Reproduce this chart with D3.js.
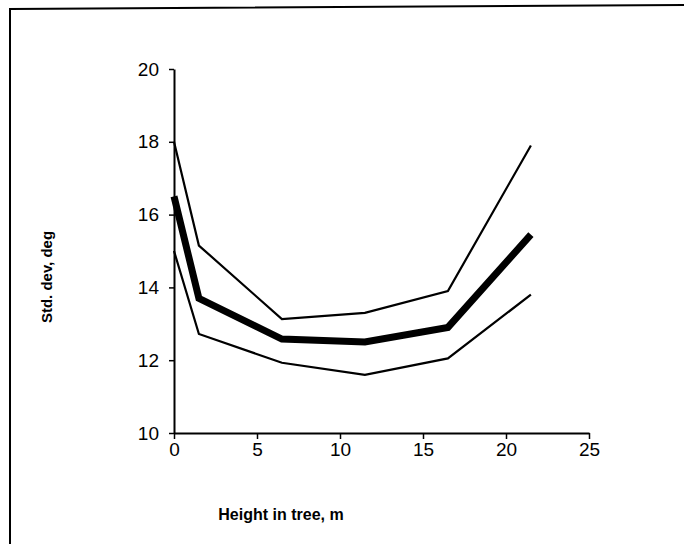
<!DOCTYPE html>
<html>
<head>
<meta charset="utf-8">
<script src="https://cdn.jsdelivr.net/npm/d3@7"></script>
<style>
  body { margin: 0; background: #fff; }
  svg { display: block; }
</style>
</head>
<body>
<div id="chart"></div>
<script>
// heights in tree (m) and std. dev (deg) for mean, upper and lower curves
var heights = [0, 1.5, 6.5, 11.5, 16.5, 21.5];
var meanSd  = [16.5, 13.7, 12.58, 12.5, 12.9, 15.45];
var upperSd = [18.0, 15.15, 13.13, 13.3, 13.9, 17.9];
var lowerSd = [15.0, 12.72, 11.93, 11.6, 12.05, 13.8];
var xTicks = [0, 5, 10, 15, 20, 25];
var yTicks = [10, 12, 14, 16, 18, 20];

var W = 684, H = 544;

var svg = d3.select("#chart").append("svg")
    .attr("width", W)
    .attr("height", H);

// frame of the scanned page
svg.append("path")
    .attr("d", "M10,544 L10,9 L684,5")
    .attr("fill", "none")
    .attr("stroke", "black")
    .attr("stroke-width", 2);

var x = d3.scaleLinear()
    .domain([0, 25])
    .range([174, 589]);

var y = d3.scaleLinear()
    .domain([10, 20])
    .range([433, 69]);

var xAxis = d3.axisBottom(x)
    .tickValues(xTicks)
    .tickSize(6)
    .tickPadding(3)
    .tickSizeOuter(0);

var yAxis = d3.axisLeft(y)
    .tickValues(yTicks)
    .tickSize(5)
    .tickPadding(10)
    .tickSizeOuter(0);

var gx = svg.append("g")
    .attr("transform", "translate(0," + y(10) + ")")
    .call(xAxis);

var gy = svg.append("g")
    .attr("transform", "translate(" + x(0) + ",0)")
    .call(yAxis);

[gx, gy].forEach(function(g) {
    g.select(".domain").attr("stroke", "black").attr("stroke-width", 2);
    g.selectAll(".tick line").attr("stroke", "black").attr("stroke-width", 1.5);
    g.selectAll(".tick text")
        .attr("fill", "black")
        .style("font-family", "Liberation Sans, Arial, sans-serif")
        .style("font-size", "19px");
});
gx.selectAll(".tick text").attr("dy", "0.75em");

var line = d3.line()
    .x(function(d, i) { return x(heights[i]); })
    .y(function(d) { return y(d); });

svg.append("path")
    .datum(upperSd)
    .attr("d", line)
    .attr("fill", "none")
    .attr("stroke", "black")
    .attr("stroke-width", 2.2);

svg.append("path")
    .datum(lowerSd)
    .attr("d", line)
    .attr("fill", "none")
    .attr("stroke", "black")
    .attr("stroke-width", 2.2);

svg.append("path")
    .datum(meanSd)
    .attr("d", line)
    .attr("fill", "none")
    .attr("stroke", "black")
    .attr("stroke-width", 7);

svg.append("text")
    .attr("x", 281)
    .attr("y", 520)
    .attr("text-anchor", "middle")
    .style("font-family", "Liberation Sans, Arial, sans-serif")
    .style("font-weight", "bold")
    .style("font-size", "16px")
    .text("Height in tree, m");

svg.append("text")
    .attr("transform", "translate(52,277) rotate(-90)")
    .attr("text-anchor", "middle")
    .style("font-family", "Liberation Sans, Arial, sans-serif")
    .style("font-weight", "bold")
    .style("font-size", "15px")
    .text("Std. dev, deg");
</script>
</body>
</html>
